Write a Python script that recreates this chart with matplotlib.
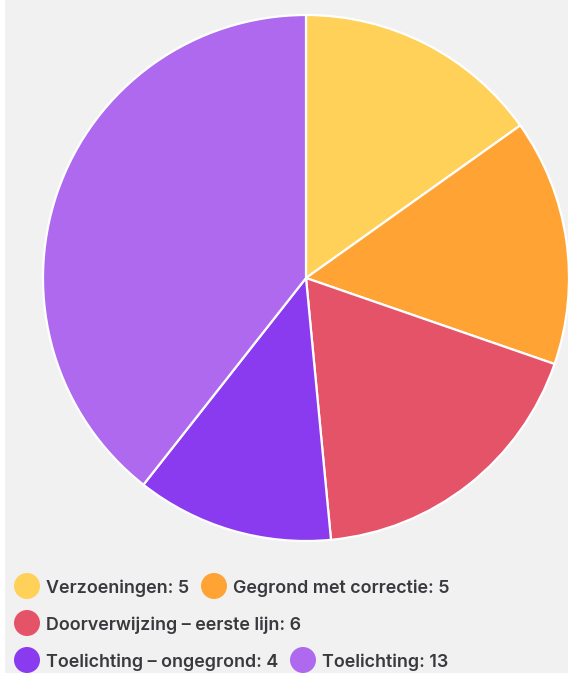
import matplotlib
matplotlib.use("Agg")
import matplotlib.pyplot as plt
from matplotlib.patches import Rectangle, Circle

# data
labels = ["Verzoeningen", "Gegrond met correctie", "Doorverwijzing – eerste lijn",
          "Toelichting – ongegrond", "Toelichting"]
values = [5, 5, 6, 4, 13]
colors = ["#FFD158", "#FFA335", "#E55369", "#8A3BEF", "#AE69EF"]

W, H = 568, 673
fig = plt.figure(figsize=(W / 100, H / 100), dpi=100)
fig.patch.set_facecolor("#F1F1F1")
fig.patches.append(Rectangle((0, 0), 5 / W, 1, transform=fig.transFigure,
                             facecolor="white", edgecolor="none", zorder=-1))

# pie area: center (306, 278) px, radius 263 px
cx, cy, r = 306, 278, 263
ax = fig.add_axes([(cx - r) / W, (H - cy - r) / H, 2 * r / W, 2 * r / H])
ax.pie(values, colors=colors, startangle=90, counterclock=False, radius=1,
       wedgeprops=dict(edgecolor="white", linewidth=1.6))
ax.set_xlim(-1, 1)
ax.set_ylim(-1, 1)
ax.set_aspect("equal")
ax.axis("off")

# legend (flex-wrapped rows), marker centre x in px
rows = [[0, 1], [2], [3, 4]]
row_y = [586, 623, 660]
marker_x = {0: 27, 1: 214, 2: 27, 3: 27, 4: 303}
for ri, items in enumerate(rows):
    for i in items:
        mx = marker_x[i]
        fig.patches.append(Circle((mx / 100, (H - row_y[ri]) / 100), 13 / 100,
                                  transform=fig.dpi_scale_trans,
                                  facecolor=colors[i], edgecolor="none"))
        fig.text((mx + 19) / W, 1 - row_y[ri] / H, f"{labels[i]}: {values[i]}",
                 fontsize=12.9, family="Inter", weight="semibold", color="#3A3A3E",
                 ha="left", va="center_baseline")

fig.savefig("out.png", dpi=100, facecolor=fig.get_facecolor())
